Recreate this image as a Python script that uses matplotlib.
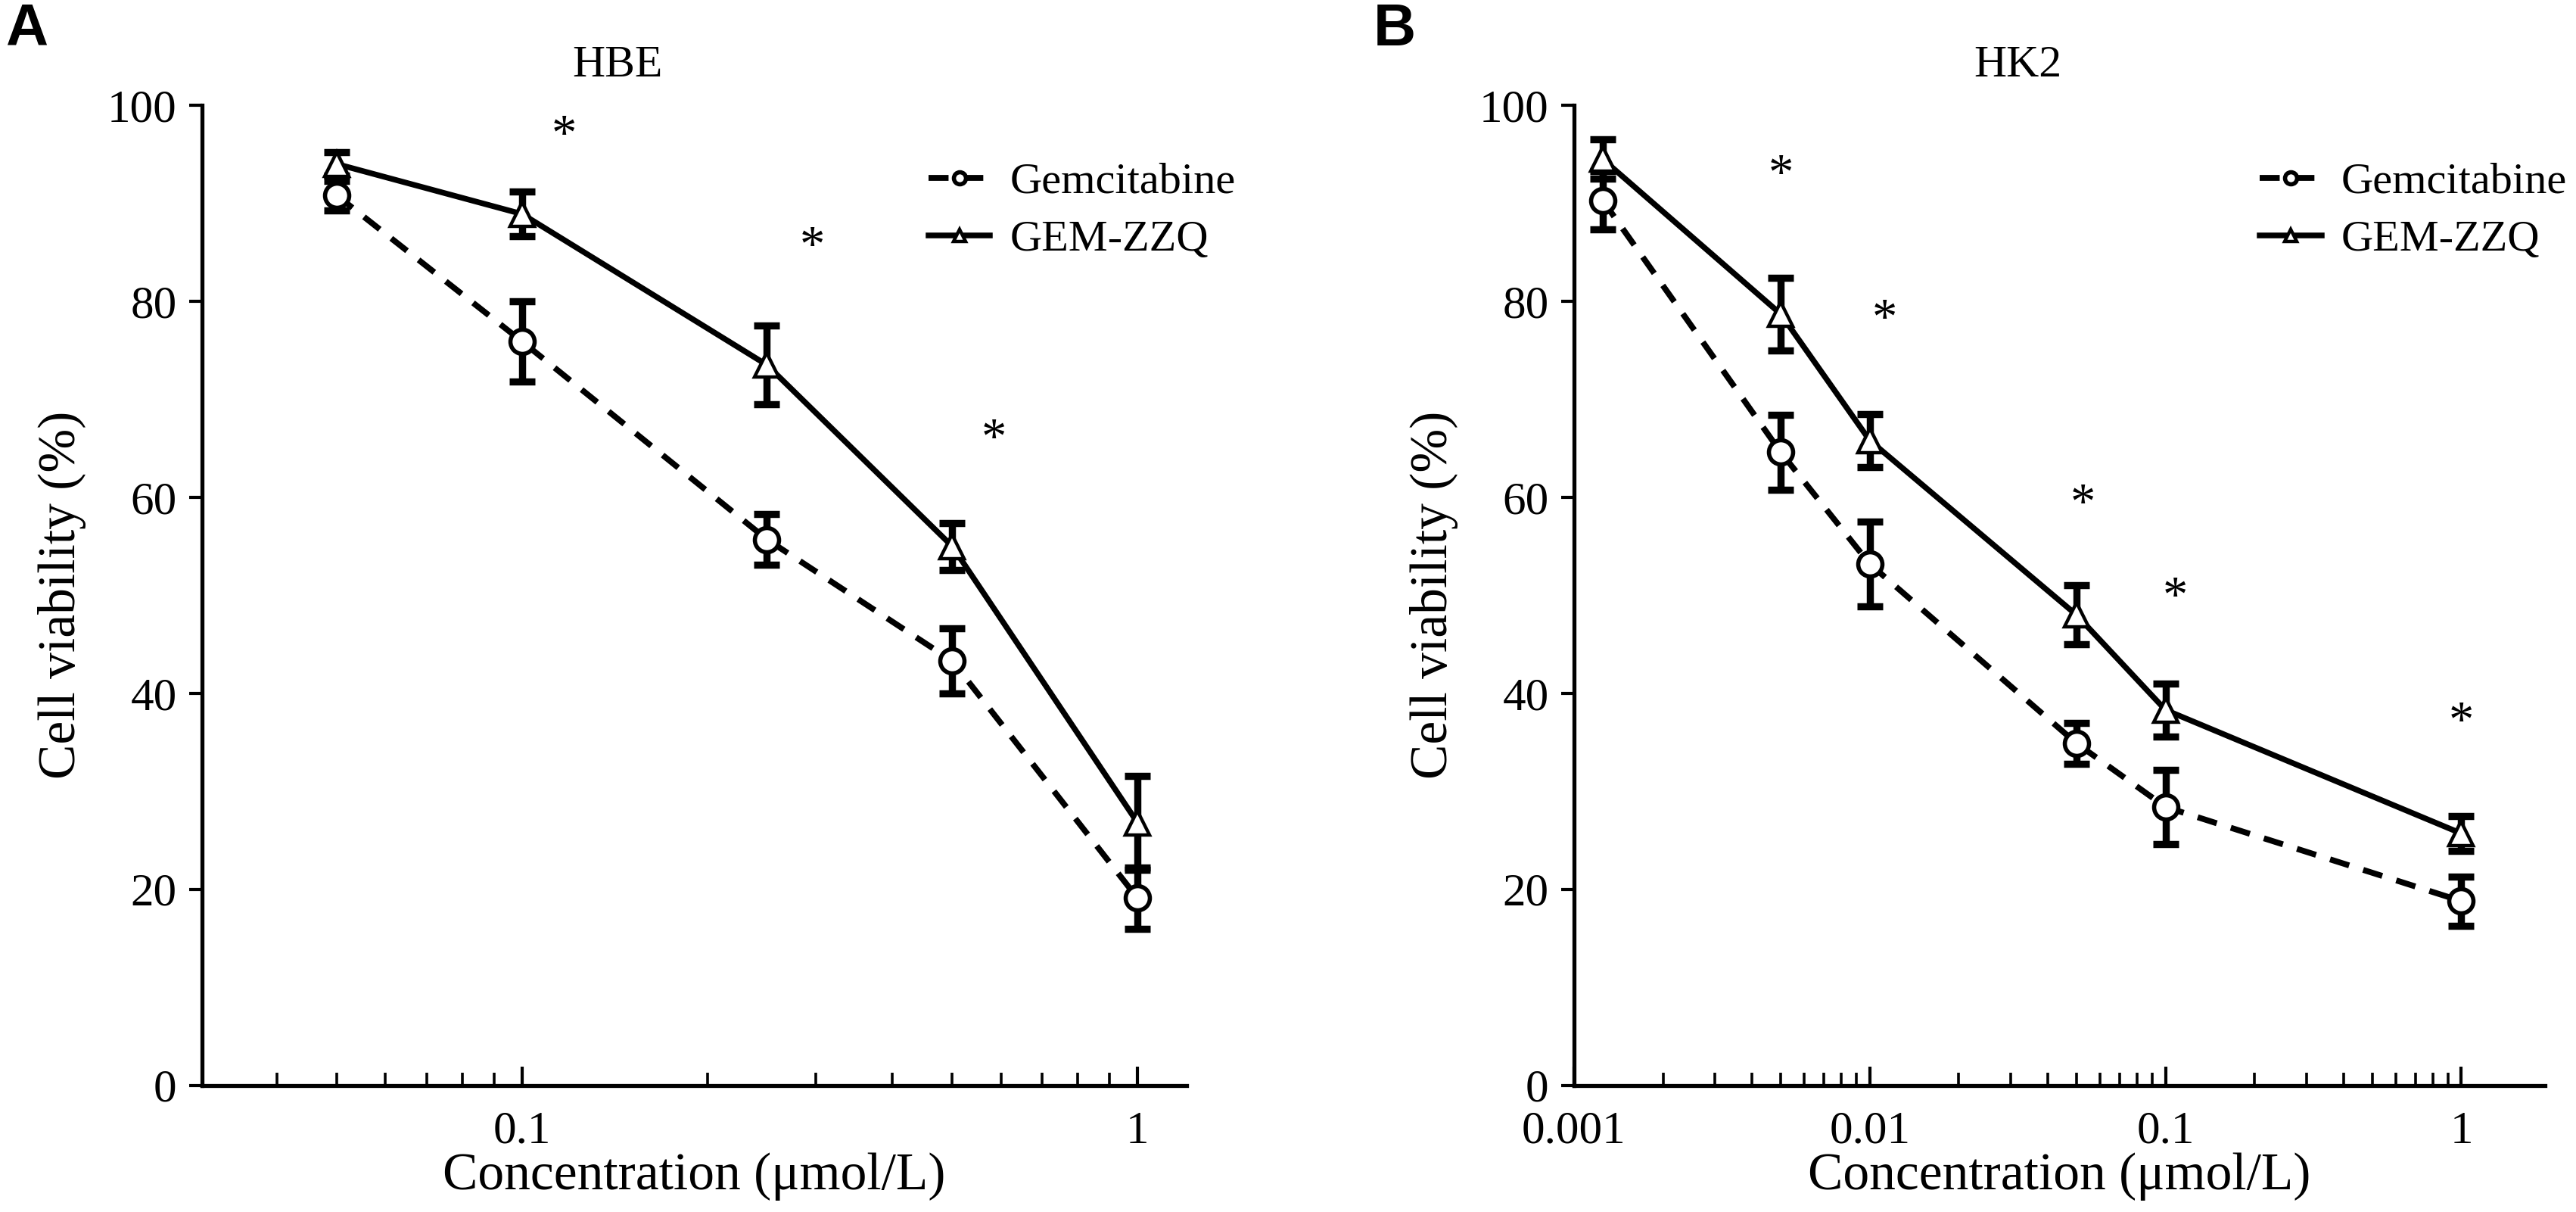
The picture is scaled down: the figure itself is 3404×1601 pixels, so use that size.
import numpy as np
import matplotlib
matplotlib.use("Agg")
import matplotlib.pyplot as plt
from matplotlib.ticker import FixedLocator, FixedFormatter, LogLocator, NullFormatter

matplotlib.rcParams['font.family'] = ['Liberation Serif', 'DejaVu Serif']
matplotlib.rcParams['font.size'] = 19

# ---------------- data ----------------
# Panel A: HBE
hbe_conc = [0.05, 0.1, 0.25, 0.5, 1.0]
hbe_gem = [90.8, 75.9, 55.7, 43.3, 19.1]
hbe_gem_err = [1.5, 4.1, 2.6, 3.3, 3.1]
hbe_zzq = [94.0, 88.9, 73.5, 55.0, 26.8]
hbe_zzq_err = [1.2, 2.3, 4.0, 2.4, 4.8]
hbe_star_x = [0.117, 0.296, 0.585]
hbe_star_y = [96.8, 85.4, 65.8]

# Panel B: HK2
hk2_conc = [0.00125, 0.005, 0.01, 0.05, 0.1, 1.0]
hk2_gem = [90.3, 64.6, 53.2, 34.9, 28.4, 18.8]
hk2_gem_err = [3.0, 3.8, 4.3, 2.1, 3.8, 2.5]
hk2_zzq = [94.5, 78.7, 65.8, 48.0, 38.3, 25.7]
hk2_zzq_err = [2.0, 3.7, 2.7, 3.0, 2.7, 1.8]
hk2_star_x = [0.005, 0.0112, 0.0527, 0.108, 1.0]
hk2_star_y = [92.8, 78.0, 59.2, 49.7, 36.9]

W, H = 3404, 1601
fig = plt.figure(figsize=(W / 200, H / 200), dpi=200)

ax_a = fig.add_axes([0.0784, 0.1045, 0.3821, 0.8087])
ax_b = fig.add_axes([0.6110, 0.1045, 0.3770, 0.8087])


def draw_panel(ax, conc, gem, gem_err, zzq, zzq_err, sx, sy, xlim, majors, major_labels,
               title, title_x, legend_anchor):
    ax.set_xscale("log")
    ax.errorbar(conc, gem, yerr=gem_err, fmt="none", ecolor="black", elinewidth=3.4,
                capsize=6, capthick=3.4, zorder=2)
    ax.errorbar(conc, zzq, yerr=zzq_err, fmt="none", ecolor="black", elinewidth=3.4,
                capsize=6, capthick=3.4, zorder=2)
    ax.plot(conc, gem, color="black", lw=2.8, linestyle=(0, (3.4, 2.5)), marker="o",
            ms=11.5, mfc="white", mec="black", mew=2.0, label="Gemcitabine", zorder=3)
    ax.plot(conc, zzq, color="black", lw=2.7, linestyle="-", marker="^",
            ms=11.5, mfc="white", mec="black", mew=1.6, label="GEM-ZZQ", zorder=3)
    for x, y in zip(sx, sy):
        ax.text(x, y, "*", ha="center", va="center", fontsize=24)

    ax.set_xlim(*xlim)
    ax.set_ylim(0, 100)
    ax.set_yticks([0, 20, 40, 60, 80, 100])
    ax.xaxis.set_major_locator(FixedLocator(majors))
    ax.xaxis.set_major_formatter(FixedFormatter(major_labels))
    ax.xaxis.set_minor_locator(LogLocator(base=10, subs=np.arange(2, 10)))
    ax.xaxis.set_minor_formatter(NullFormatter())

    for s in ["top", "right"]:
        ax.spines[s].set_visible(False)
    for s in ["left", "bottom"]:
        ax.spines[s].set_linewidth(1.9)

    ax.tick_params(axis="x", which="major", direction="in", length=9, width=1.5, pad=12,
                   labelsize=22)
    ax.tick_params(axis="x", which="minor", direction="in", length=6, width=1.3)
    ax.tick_params(axis="y", direction="out", length=6, width=1.5, labelsize=22, pad=6)

    ax.set_xlabel("Concentration (μmol/L)", fontsize=25, labelpad=0)
    ax.set_ylabel("Cell viability (%)", fontsize=25, labelpad=10)
    ax.text(title_x, 1.04, title, transform=ax.transAxes, ha="center", va="center",
            fontsize=21.5)

    leg = ax.legend(loc="upper left", bbox_to_anchor=legend_anchor, frameon=False,
                    fontsize=21, markerscale=0.5, handlelength=1.4, handletextpad=0.45,
                    labelspacing=0.4, borderaxespad=0)
    return leg


draw_panel(ax_a, hbe_conc, hbe_gem, hbe_gem_err, hbe_zzq, hbe_zzq_err,
           hbe_star_x, hbe_star_y, (0.0302, 1.2), [0.1, 1], ["0.1", "1"],
           "HBE", 0.422, (0.72, 0.96))
draw_panel(ax_b, hk2_conc, hk2_gem, hk2_gem_err, hk2_zzq, hk2_zzq_err,
           hk2_star_x, hk2_star_y, (0.001, 1.92), [0.001, 0.01, 0.1, 1],
           ["0.001", "0.01", "0.1", "1"],
           "HK2", 0.457, (0.688, 0.96))

fig.text(16 / 1568, 1 - 18 / 737, "A", fontsize=28, fontweight="bold",
         family="Liberation Sans", ha="center", va="center")
fig.text(849 / 1568, 1 - 18 / 737, "B", fontsize=28, fontweight="bold",
         family="Liberation Sans", ha="center", va="center")

fig.savefig("out.png", dpi=200)
